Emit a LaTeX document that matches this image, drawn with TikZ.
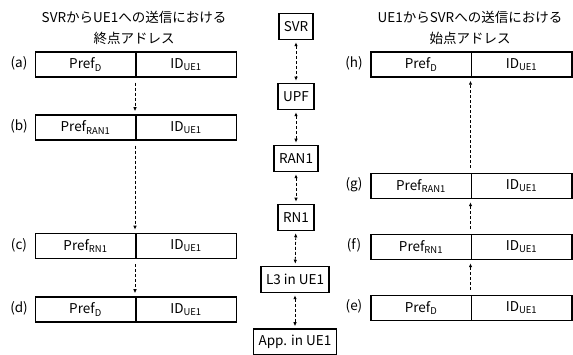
\documentclass[tikz,border=0pt]{standalone}
\usepackage{fontspec}
\setmainfont{Noto Sans CJK JP}
\usetikzlibrary{arrows.meta}

\tikzset{
  field/.style={draw, line width=1.5pt, minimum width=100.5pt, minimum height=25pt, inner sep=0pt},
  hop/.style={draw, line width=1.5pt, minimum height=26pt, inner xsep=5pt, inner ysep=0pt},
  flow/.style={dash pattern=on 3pt off 2pt, line width=0.8pt, shorten <=5pt, shorten >=3pt},
  link/.style={flow, shorten <=2pt, shorten >=2pt},
  tip/.tip={Latex[length=4pt, width=3.5pt]},
}

\begin{document}
\begin{tikzpicture}[x=1pt, y=-1pt, font=\fontsize{13.5}{20.5}\selectfont]
  \useasboundingbox (0,0) rectangle (573,355);

  % titles
  \node[align=center] (ttl) at (134,28) {SVRからUE1への送信における\\終点アドレス};
  \node[align=center] (ttr) at (470,28) {UE1からSVRへの送信における\\始点アドレス};

  % nodes on the path
  \node[hop] (svr) at (296,26.5) {SVR};
  \node[hop] (upf) at (296,96.5) {UPF};
  \node[hop] (ran) at (296,158.5) {RAN1};
  \node[hop] (rn)  at (296,217.5) {RN1};
  \node[hop] (l3)  at (295,279.5) {L3 in UE1};
  \node[hop] (app) at (295,342) {App. in UE1};
  \draw[link, tip-tip] (svr) -- (upf);
  \draw[link, tip-tip] (upf) -- (ran);
  \draw[link, tip-tip] (ran) -- (rn);
  \draw[link, tip-tip] (rn) -- (l3);
  \draw[link, tip-tip] (l3) -- (app);

  % destination address, downlink
  \node[field] (pa) at (85.5,64.5)  {Pref\textsubscript{D}};
  \node[field] (ia) at (186,64.5)   {ID\textsubscript{UE1}};
  \node[field] (pb) at (85.5,127.5) {Pref\textsubscript{RAN1}};
  \node[field] (ib) at (186,127.5)  {ID\textsubscript{UE1}};
  \node[field] (pc) at (85.5,246)   {Pref\textsubscript{RN1}};
  \node[field] (ic) at (186,246)    {ID\textsubscript{UE1}};
  \node[field] (pd) at (85.5,309.5) {Pref\textsubscript{D}};
  \node[field] (id) at (186,309.5)  {ID\textsubscript{UE1}};
  \node (la) at (19,63)  {(a)};
  \node (lb) at (19,126) {(b)};
  \node (lc) at (19,245) {(c)};
  \node (ld) at (19,308) {(d)};
  \draw[flow, -tip] (ia.south west) -- (ib.north west);
  \draw[flow, -tip] (ib.south west) -- (ic.north west);
  \draw[flow, -tip] (ic.south west) -- (id.north west);

  % source address, uplink
  \node[field] (ph) at (421,64.5)  {Pref\textsubscript{D}};
  \node[field] (ih) at (521.5,64.5) {ID\textsubscript{UE1}};
  \node[field] (pg) at (421,186)   {Pref\textsubscript{RAN1}};
  \node[field] (ig) at (521.5,186) {ID\textsubscript{UE1}};
  \node[field] (pf) at (421,247)   {Pref\textsubscript{RN1}};
  \node[field] (if) at (521.5,247) {ID\textsubscript{UE1}};
  \node[field] (pe) at (421,308)   {Pref\textsubscript{D}};
  \node[field] (ie) at (521.5,308) {ID\textsubscript{UE1}};
  \node (lh) at (354,63)  {(h)};
  \node (lg) at (354,185) {(g)};
  \node (lf) at (354,245) {(f)};
  \node (le) at (354,306) {(e)};
  \draw[flow, -tip] (ie.north west) -- (if.south west);
  \draw[flow, -tip] (if.north west) -- (ig.south west);
  \draw[flow, -tip] (ig.north west) -- (ih.south west);
\end{tikzpicture}
\end{document}
